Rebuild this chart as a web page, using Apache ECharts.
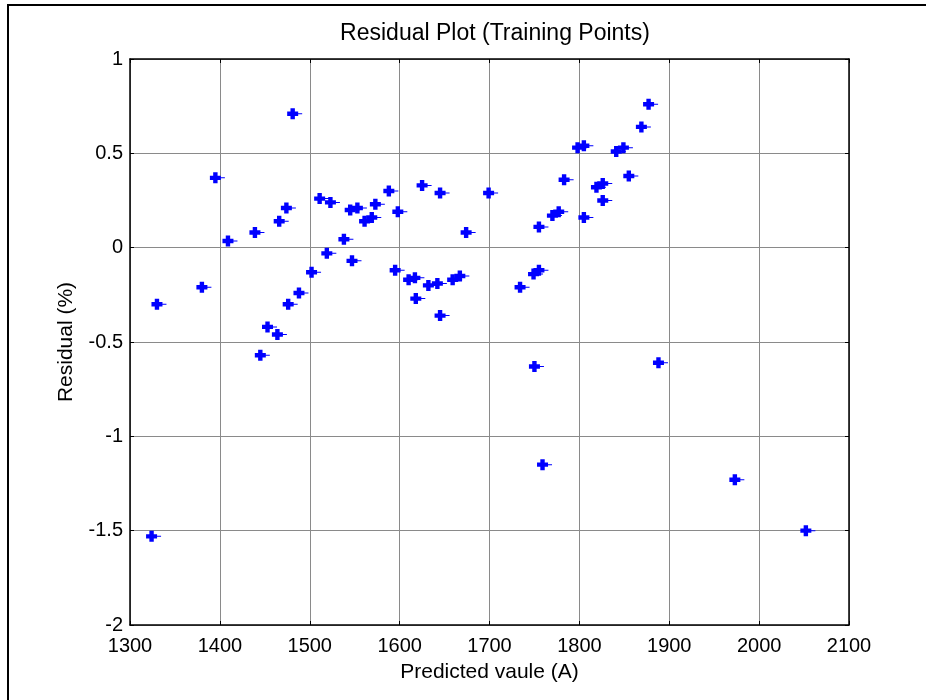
<!DOCTYPE html>
<html lang="en">
<head>
    <meta charset="UTF-8">
    <title>Residual Plot</title>
    <script src="https://cdn.jsdelivr.net/npm/echarts@6/dist/echarts.min.js"></script>
</head>
<body style="margin:0;background:#fff;">
    <div id="main" style="width: 926px;height:700px;"></div>
    <script>
    // predicted value (A) and residual (%) of each training point
    var predicted = [1324, 1330, 1380, 1395, 1409, 1439, 1445, 1453, 1464, 1466,
        1474, 1476, 1481, 1488, 1502, 1511, 1519, 1523, 1538, 1545,
        1547, 1553, 1561, 1569, 1573, 1588, 1595, 1598, 1610, 1617,
        1618, 1625, 1632, 1642, 1645, 1645, 1659, 1667, 1674, 1699,
        1734, 1749, 1750, 1755, 1755, 1759, 1770, 1777, 1783, 1798,
        1805, 1805, 1819, 1826, 1826, 1841, 1849, 1855, 1869, 1877,
        1888, 1973, 2052];
    var residual = [-1.53, -0.30, -0.21, 0.37, 0.035, 0.08, -0.57, -0.42, -0.46, 0.14,
        0.21, -0.30, 0.71, -0.24, -0.13, 0.26, -0.03, 0.24, 0.045, 0.20,
        -0.07, 0.21, 0.14, 0.16, 0.23, 0.30, -0.12, 0.19, -0.17, -0.16,
        -0.27, 0.33, -0.20, -0.19, 0.29, -0.36, -0.17, -0.15, 0.08, 0.29,
        -0.21, -0.14, -0.63, -0.12, 0.11, -1.15, 0.17, 0.19, 0.36, 0.53,
        0.54, 0.16, 0.32, 0.34, 0.25, 0.51, 0.53, 0.38, 0.64, 0.76,
        -0.61, -1.23, -1.50];

    var xTicks = { min: 1300, max: 2100, interval: 100 };
    var yTicks = { min: -2, max: 1, interval: 0.5 };

    var points = [];
    for (var i = 0; i < predicted.length; i++) {
        points.push([predicted[i], residual[i]]);
    }

    var font = 'Liberation Sans, Arial, sans-serif';
    // thick plus marker with the little tail to the right
    var plusPath = 'path://M0,3.3H3.3V0H7.7V3.3H11V5H15V6H11V7.7H7.7V11H3.3V7.7H0Z';

    var myChart = echarts.init(document.getElementById('main'));

    var option = {
        animation: false,
        backgroundColor: '#fff',
        title: {
            text: 'Residual Plot (Training Points)',
            left: 490,
            textAlign: 'center',
            top: 17,
            textStyle: { color: '#000', fontSize: 23, fontWeight: 'normal', fontFamily: font }
        },
        graphic: [{
            type: 'rect',
            shape: { x: 8, y: 5, width: 940, height: 720 },
            style: { fill: null, stroke: '#000', lineWidth: 2 },
            silent: true
        }],
        grid: { left: 130, right: 77, top: 59, bottom: 75 },
        xAxis: [{
            type: 'value',
            min: xTicks.min, max: xTicks.max, interval: xTicks.interval,
            name: 'Predicted vaule (A)',
            nameLocation: 'middle',
            nameGap: 37,
            nameTextStyle: { color: '#000', fontSize: 21, fontFamily: font },
            axisLine: { onZero: false, lineStyle: { color: '#000', width: 1.5 } },
            axisTick: { inside: true, length: 4, lineStyle: { color: '#000' } },
            axisLabel: {
                color: '#000', fontSize: 20, fontFamily: font, margin: 11,
                formatter: function (v) { return String(v); }
            },
            splitLine: { show: true, lineStyle: { color: '#8a8a8a', width: 1 } }
        }, {
            type: 'value',
            position: 'top',
            min: xTicks.min, max: xTicks.max, interval: xTicks.interval,
            axisLine: { onZero: false, lineStyle: { color: '#000', width: 1.5 } },
            axisTick: { inside: true, length: 4, lineStyle: { color: '#000' } },
            axisLabel: { show: false },
            splitLine: { show: false }
        }],
        yAxis: [{
            type: 'value',
            min: yTicks.min, max: yTicks.max, interval: yTicks.interval,
            name: 'Residual (%)',
            nameLocation: 'middle',
            nameGap: 53,
            nameTextStyle: { color: '#000', fontSize: 21, fontFamily: font },
            axisLine: { show: true, onZero: false, lineStyle: { color: '#000', width: 1.5 } },
            axisTick: { show: true, inside: true, length: 4, lineStyle: { color: '#000' } },
            axisLabel: { color: '#000', fontSize: 20, fontFamily: font, margin: 7 },
            splitLine: { show: true, lineStyle: { color: '#8a8a8a', width: 1 } }
        }, {
            type: 'value',
            position: 'right',
            min: yTicks.min, max: yTicks.max, interval: yTicks.interval,
            axisLine: { show: true, onZero: false, lineStyle: { color: '#000', width: 1.5 } },
            axisTick: { show: true, inside: true, length: 4, lineStyle: { color: '#000' } },
            axisLabel: { show: false },
            splitLine: { show: false }
        }],
        series: [{
            type: 'scatter',
            xAxisIndex: 0,
            yAxisIndex: 0,
            symbol: plusPath,
            symbolSize: [15, 11],
            symbolOffset: [2, 0],
            itemStyle: { color: '#0000ff', opacity: 1 },
            data: points
        }]
    };
    myChart.setOption(option);
    </script>
</body>
</html>
